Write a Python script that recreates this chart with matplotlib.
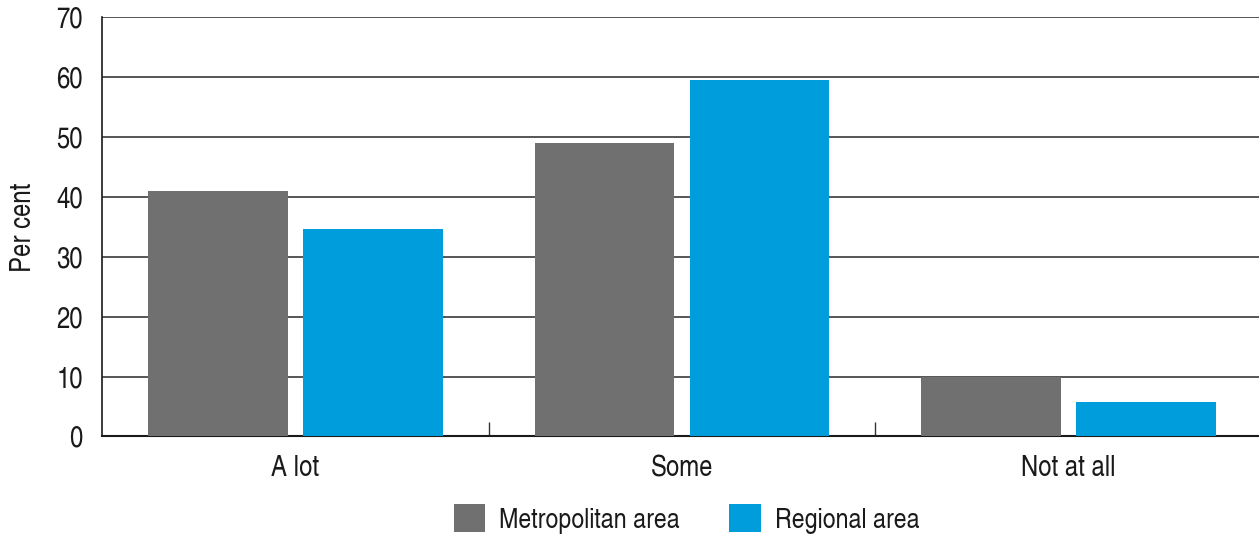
import matplotlib
matplotlib.use("Agg")
import matplotlib.pyplot as plt
from matplotlib.patches import Patch
from matplotlib.ticker import FixedLocator
import numpy as np

categories = ["A lot", "Some", "Not at all"]
metropolitan = [41.0, 49.0, 10.0]
regional = [34.7, 59.6, 5.8]
series_names = ["Metropolitan area", "Regional area"]
y_ticks = [0, 10, 20, 30, 40, 50, 60, 70]

METRO_COLOR = "#707070"
REGION_COLOR = "#009ddd"
TEXT_COLOR = "#1a1a1a"
FONT_SIZE = 21
LEGEND_SIZE = 20.4

plt.rcParams["font.family"] = ["TeX Gyre Heros Cn", "Liberation Sans", "DejaVu Sans"]

fig = plt.figure(figsize=(12.59, 5.41), dpi=100)
ax = fig.add_axes([0.0812, 0.1932, 0.921, 0.7745])

x = np.arange(len(categories))
width = 0.362
offset = 0.2005
ax.bar(x - offset, metropolitan, width, color=METRO_COLOR, zorder=3)
ax.bar(x + offset, regional, width, color=REGION_COLOR, zorder=3)

ax.set_xlim(-0.5, len(categories) - 0.5)
ax.set_ylim(0, 70)
ax.set_yticks(y_ticks)
ax.set_yticklabels([str(t) for t in y_ticks])
ax.set_xticks(x)
ax.set_xticklabels(categories)

# small inward ticks marking the boundaries between groups
ax.xaxis.set_minor_locator(FixedLocator([0.5, 1.5]))
ax.tick_params(axis="x", which="minor", direction="in", length=10, width=1, color="#333333")
ax.tick_params(axis="x", which="major", length=0, pad=13.5, labelsize=FONT_SIZE, labelcolor=TEXT_COLOR)
ax.tick_params(axis="y", which="major", length=0, pad=14, labelsize=FONT_SIZE, labelcolor=TEXT_COLOR)

ax.yaxis.grid(True, color="#3a3a3a", linewidth=1.2, zorder=0)
ax.set_axisbelow(True)

for side in ("top", "right"):
    ax.spines[side].set_visible(False)
ax.spines["left"].set_color(TEXT_COLOR)
ax.spines["left"].set_linewidth(1.2)
ax.spines["bottom"].set_color(TEXT_COLOR)
ax.spines["bottom"].set_linewidth(1.5)

ax.set_ylabel("Per cent", fontsize=FONT_SIZE, color=TEXT_COLOR, labelpad=14)

handles = [Patch(facecolor=METRO_COLOR), Patch(facecolor=REGION_COLOR)]
fig.legend(handles, series_names, loc="center", bbox_to_anchor=(0.5453, 0.0407),
           ncol=2, frameon=False, fontsize=LEGEND_SIZE, handlelength=1.1, handleheight=1.1,
           handletextpad=0.5, columnspacing=1.75, labelcolor=TEXT_COLOR)

fig.savefig("out.png", dpi=100)
